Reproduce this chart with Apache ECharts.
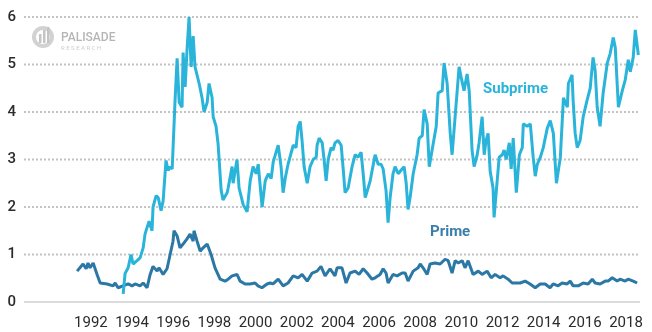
<!DOCTYPE html>
<html>
<head>
<meta charset="utf-8">
<script src="https://cdn.jsdelivr.net/npm/echarts@6/dist/echarts.min.js"></script>
</head>
<body style="margin:0; background:#fff">
<div id="chart" style="width:652px;height:332px"></div>
<script>
// ============ 数据 ============
// 次级贷款 (Subprime) 读数：年份 / 数值
const subprimeYears = [
  1993.57, 1993.66, 1993.81, 1993.95, 1994.05, 1994.24, 1994.39, 1994.54, 1994.63, 1994.73,
  1994.83, 1994.97, 1995.02, 1995.17, 1995.27, 1995.41, 1995.51, 1995.65, 1995.75, 1995.85,
  1995.95, 1996.09, 1996.19, 1996.29, 1996.43, 1996.48, 1996.58, 1996.67, 1996.77, 1996.87,
  1996.97, 1997.06, 1997.26, 1997.40, 1997.50, 1997.65, 1997.74, 1997.89, 1997.94, 1998.08,
  1998.18, 1998.33, 1998.42, 1998.62, 1998.67, 1998.86, 1998.91, 1999.10, 1999.20, 1999.40,
  1999.59, 1999.74, 1999.88, 2000.03, 2000.13, 2000.32, 2000.47, 2000.62, 2000.76, 2000.86,
  2001.10, 2001.24, 2001.34, 2001.44, 2001.58, 2001.83, 2001.97, 2002.07, 2002.17, 2002.26,
  2002.36, 2002.51, 2002.65, 2002.80, 2002.95, 2002.99, 2003.09, 2003.24, 2003.33, 2003.43,
  2003.53, 2003.67, 2003.77, 2003.86, 2004.01, 2004.16, 2004.25, 2004.35, 2004.50, 2004.69,
  2004.84, 2004.98, 2005.13, 2005.23, 2005.33, 2005.47, 2005.57, 2005.81, 2005.96, 2006.10,
  2006.20, 2006.34, 2006.44, 2006.54, 2006.68, 2006.78, 2006.93, 2007.12, 2007.22, 2007.32,
  2007.41, 2007.51, 2007.66, 2007.85, 2007.95, 2008.10, 2008.19, 2008.34, 2008.44, 2008.58,
  2008.78, 2008.87, 2009.07, 2009.16, 2009.31, 2009.46, 2009.55, 2009.89, 2009.98, 2010.13,
  2010.28, 2010.38, 2010.52, 2010.62, 2010.77, 2010.86, 2011.01, 2011.11, 2011.20, 2011.30,
  2011.40, 2011.54, 2011.59, 2011.74, 2011.84, 2011.99, 2012.08, 2012.18, 2012.33, 2012.42,
  2012.52, 2012.67, 2012.82, 2012.96, 2013.01, 2013.20, 2013.35, 2013.49, 2013.59, 2013.69,
  2013.84, 2013.98, 2014.17, 2014.32, 2014.47, 2014.62, 2014.81, 2014.96, 2015.15, 2015.20,
  2015.38, 2015.43, 2015.53, 2015.63, 2015.77, 2015.92, 2016.11, 2016.26, 2016.40, 2016.50,
  2016.60, 2016.74, 2016.89, 2017.09, 2017.23, 2017.38, 2017.48, 2017.63, 2017.82, 2017.96,
  2018.11, 2018.21, 2018.35, 2018.45, 2018.60
]
const subprimeRates = [
  0.17, 0.60, 0.72, 1.00, 0.80, 0.87, 0.93, 1.14, 1.43, 1.57,
  1.70, 1.50, 2.00, 2.24, 2.20, 1.92, 2.13, 2.98, 2.77, 2.85,
  2.80, 4.25, 5.13, 4.20, 4.10, 5.25, 4.53, 5.30, 6.00, 4.95,
  5.60, 4.95, 4.60, 4.30, 4.00, 4.20, 4.60, 4.30, 3.90, 3.70,
  3.33, 2.35, 2.15, 2.30, 2.40, 2.85, 2.50, 3.00, 2.40, 2.05,
  1.90, 2.55, 2.85, 2.70, 2.90, 2.00, 2.55, 2.70, 2.60, 2.95,
  3.30, 2.85, 2.30, 2.60, 2.90, 3.30, 3.25, 3.70, 3.80, 3.40,
  2.85, 2.50, 2.85, 3.00, 3.05, 3.30, 3.45, 3.35, 3.00, 2.55,
  3.00, 3.25, 3.20, 3.35, 3.40, 3.30, 2.85, 2.30, 2.40, 2.85,
  3.10, 3.05, 3.15, 2.70, 2.20, 2.40, 2.55, 3.10, 2.90, 2.90,
  2.80, 2.35, 1.67, 2.20, 2.70, 2.85, 2.70, 2.80, 2.85, 2.50,
  1.95, 2.20, 2.70, 3.10, 3.45, 3.50, 4.05, 3.75, 2.85, 3.20,
  3.70, 4.40, 4.45, 5.03, 4.60, 3.55, 3.10, 4.95, 4.75, 4.45,
  4.80, 4.45, 3.20, 2.85, 3.10, 3.35, 3.90, 3.10, 3.40, 3.55,
  2.75, 2.40, 1.78, 2.55, 3.05, 3.10, 3.20, 3.00, 3.35, 2.80,
  3.45, 2.30, 3.10, 3.25, 3.75, 3.70, 3.75, 3.05, 2.65, 2.90,
  3.05, 3.25, 3.65, 3.82, 3.55, 2.50, 3.05, 4.30, 4.10, 4.60,
  4.78, 4.25, 3.55, 3.25, 3.40, 3.90, 4.25, 4.50, 5.15, 4.88,
  4.10, 3.70, 4.40, 5.03, 5.23, 5.57, 5.35, 4.10, 4.45, 4.67,
  5.10, 4.85, 5.15, 5.73, 5.20
]

// 优质贷款 (Prime) 读数：年份 / 数值
const primeYears = [
  1991.33, 1991.62, 1991.77, 1991.86, 1991.96, 1992.11, 1992.30, 1992.45, 1992.79, 1993.08,
  1993.18, 1993.32, 1993.56, 1993.81, 1994.00, 1994.15, 1994.39, 1994.54, 1994.73, 1994.88,
  1995.02, 1995.22, 1995.31, 1995.51, 1995.70, 1995.85, 1995.99, 1996.04, 1996.19, 1996.33,
  1996.48, 1996.67, 1996.82, 1996.97, 1997.01, 1997.16, 1997.31, 1997.45, 1997.65, 1997.84,
  1998.03, 1998.28, 1998.52, 1998.67, 1998.86, 1999.10, 1999.25, 1999.49, 1999.73, 1999.98,
  2000.12, 2000.31, 2000.56, 2000.71, 2000.85, 2001.10, 2001.34, 2001.58, 2001.83, 2002.07,
  2002.26, 2002.51, 2002.75, 2002.99, 2003.18, 2003.38, 2003.62, 2003.86, 2003.96, 2004.20,
  2004.40, 2004.59, 2004.84, 2005.03, 2005.23, 2005.42, 2005.66, 2005.81, 2006.05, 2006.20,
  2006.34, 2006.44, 2006.68, 2006.88, 2007.12, 2007.27, 2007.41, 2007.66, 2007.90, 2008.00,
  2008.14, 2008.34, 2008.48, 2008.72, 2008.97, 2009.21, 2009.36, 2009.55, 2009.70, 2009.85,
  2010.04, 2010.18, 2010.33, 2010.57, 2010.82, 2011.01, 2011.25, 2011.45, 2011.64, 2011.88,
  2012.03, 2012.27, 2012.47, 2012.71, 2012.86, 2013.10, 2013.34, 2013.59, 2013.83, 2014.07,
  2014.31, 2014.46, 2014.70, 2014.90, 2015.14, 2015.29, 2015.43, 2015.68, 2015.92, 2016.16,
  2016.36, 2016.50, 2016.74, 2016.99, 2017.13, 2017.33, 2017.57, 2017.71, 2017.96, 2018.10,
  2018.35, 2018.54
]
const primeRates = [
  0.65, 0.80, 0.70, 0.82, 0.72, 0.82, 0.58, 0.40, 0.38, 0.34,
  0.40, 0.30, 0.34, 0.38, 0.34, 0.38, 0.34, 0.40, 0.30, 0.58,
  0.75, 0.65, 0.72, 0.58, 0.70, 1.00, 1.28, 1.50, 1.39, 1.14,
  1.22, 1.33, 1.43, 1.28, 1.50, 1.28, 1.07, 1.14, 1.22, 1.00,
  0.72, 0.48, 0.44, 0.48, 0.55, 0.58, 0.44, 0.38, 0.38, 0.40,
  0.34, 0.30, 0.38, 0.40, 0.38, 0.48, 0.34, 0.40, 0.55, 0.51,
  0.58, 0.44, 0.61, 0.65, 0.75, 0.55, 0.70, 0.55, 0.72, 0.72,
  0.40, 0.61, 0.65, 0.58, 0.70, 0.61, 0.48, 0.51, 0.58, 0.70,
  0.61, 0.40, 0.58, 0.55, 0.61, 0.61, 0.44, 0.65, 0.72, 0.80,
  0.72, 0.58, 0.80, 0.82, 0.80, 0.90, 0.87, 0.61, 0.87, 0.82,
  0.87, 0.72, 0.87, 0.58, 0.65, 0.58, 0.65, 0.51, 0.58, 0.51,
  0.55, 0.48, 0.40, 0.40, 0.40, 0.44, 0.38, 0.30, 0.38, 0.38,
  0.30, 0.38, 0.34, 0.40, 0.38, 0.44, 0.34, 0.34, 0.40, 0.38,
  0.48, 0.40, 0.38, 0.44, 0.44, 0.51, 0.44, 0.48, 0.44, 0.48,
  0.44, 0.40
]

// 坐标轴刻度
const yearTicks = [1992, 1994, 1996, 1998, 2000, 2002, 2004, 2006, 2008, 2010, 2012, 2014, 2016, 2018]
const yTicks = [0, 1, 2, 3, 4, 5, 6]

// ============ 样式常量 ============
const X_MIN = 1988.75
const X_MAX = 2018.68
const COLORS = {
  subprime: '#2ab4da',
  prime: '#2b78a6',
  primeLabel: '#3a7eaa',
  text: '#2b2b2b',
  grid: '#c4c4c4',
  axis: '#dcdcdc',
  logo: '#b5b5b5'
}

const zip = (xs, ys) => xs.map((x, i) => [x, ys[i]])

// 网格线：每个刻度一条横跨整个 x 范围的线（0 为实线，其余为点线）
const gridSeries = yTicks.map(v => ({
  type: 'line',
  data: [[X_MIN, v], [X_MAX, v]],
  showSymbol: false,
  silent: true,
  z: 1,
  lineStyle: v === 0
    ? { color: COLORS.axis, width: 2, type: 'solid' }
    : { color: COLORS.grid, width: 2, type: 'dotted' }
}))

const chart = echarts.init(document.getElementById('chart'))

chart.setOption({
  animation: false,
  grid: { left: 24, right: 12, top: 17, bottom: 30 },
  xAxis: {
    type: 'value',
    min: X_MIN,
    max: X_MAX,
    axisLine: { show: false },
    axisTick: { show: false },
    splitLine: { show: false },
    axisLabel: {
      customValues: yearTicks,
      formatter: v => String(v),
      color: COLORS.text,
      fontFamily: 'Roboto',
      fontSize: 15,
      margin: 14
    }
  },
  yAxis: {
    type: 'value',
    min: yTicks[0],
    max: yTicks[yTicks.length - 1],
    interval: 1,
    axisLine: { show: false },
    axisTick: { show: false },
    axisLabel: {
      color: COLORS.text,
      fontFamily: 'Roboto',
      fontWeight: 500,
      fontSize: 15,
      margin: 8
    },
    splitLine: { show: false }
  },
  graphic: [
    // 水印 logo
    {
      type: 'group', left: 32, top: 26, silent: true,
      children: [
        { type: 'ring', shape: { cx: 11, cy: 11, r: 11, r0: 7 }, style: { fill: '#d2d2d2' } },
        { type: 'rect', shape: { x: 7, y: 8, width: 2.5, height: 9 }, style: { fill: '#c4c4c4' } },
        { type: 'rect', shape: { x: 11, y: 4, width: 2.5, height: 13 }, style: { fill: '#c4c4c4' } },
        { type: 'rect', shape: { x: 15, y: 1, width: 2.5, height: 16 }, style: { fill: '#c4c4c4' } },
        { type: 'text', x: 29, y: 6,
          style: { text: 'PALISADE', fill: COLORS.logo, font: '500 12px Roboto' } },
        { type: 'text', x: 29, y: 19,
          style: { text: 'R E S E A R C H', fill: '#cfcfcf', font: '6px Roboto' } }
      ]
    },
    {
      type: 'text', left: 483, top: 82, silent: true,
      style: { text: 'Subprime', fill: COLORS.subprime, font: 'bold 15px Roboto' }
    },
    {
      type: 'text', left: 430, top: 225, silent: true,
      style: { text: 'Prime', fill: COLORS.primeLabel, font: 'bold 15px Roboto' }
    }
  ],
  series: [
    ...gridSeries,
    {
      name: 'Prime',
      type: 'line',
      data: zip(primeYears, primeRates),
      showSymbol: false,
      lineStyle: { color: COLORS.prime, width: 3 },
      z: 2
    },
    {
      name: 'Subprime',
      type: 'line',
      data: zip(subprimeYears, subprimeRates),
      showSymbol: false,
      lineStyle: { color: COLORS.subprime, width: 3 },
      z: 3
    }
  ]
})
</script>
</body>
</html>
